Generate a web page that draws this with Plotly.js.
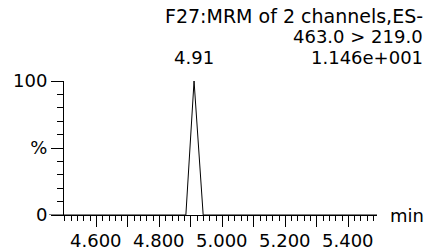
<!DOCTYPE html>
<html><head><meta charset="utf-8">
<script src="https://cdn.plot.ly/plotly-3.0.1.min.js"></script>
<style>html,body{margin:0;padding:0;background:#fff}#c{width:428px;height:250px}</style>
</head><body><div id="c"></div>
<script>
const timeMin = [4.497, 4.884, 4.910, 4.939, 5.491];
const intensityPct = [0, 0, 100, 0, 0];
const xTickVals = [4.6, 4.7, 4.8, 4.9, 5.0, 5.1, 5.2, 5.3, 5.4];
const xTickText = ["4.600", "", "4.800", "", "5.000", "", "5.200", "", "5.400"];
const yTickVals = [0, 50, 100];
const yTickText = ["0", "%", "100"];
const peakTime = 4.91;
const peakLabel = "4.91";
const headerLines = ["F27:MRM of 2 channels,ES-", "463.0 > 219.0", "1.146e+001"];
const headerY = [1.485, 1.33, 1.178];

const fam = "DejaVu Sans, Liberation Sans, Arial, sans-serif";
const font = {family: fam, size: 18, color: "#000"};
const headFont = {family: fam, size: 19, color: "#000"};
const annotations = headerLines.map((t, i) => ({
  x: 1, y: headerY[i], xref: "paper", yref: "paper", xanchor: "right", yanchor: "middle",
  text: t, showarrow: false, font: i === 0 ? headFont : font, xshift: 48
}));
annotations.push({x: peakTime, y: 1.178, xref: "x", yref: "paper", text: peakLabel, showarrow: false, yanchor: "middle", xanchor: "center", font: font});
annotations.push({x: 1, y: 0, xref: "paper", yref: "paper", xanchor: "left", yanchor: "middle", text: "min", showarrow: false, font: font, xshift: 11});
xTickVals.forEach((v, i) => {
  if (xTickText[i]) annotations.push({x: v, y: -0.187, xref: "x", yref: "paper", text: xTickText[i], showarrow: false, xanchor: "center", yanchor: "middle", font: font});
});

const layout = {
  width: 428, height: 250,
  margin: {l: 64, r: 51, t: 80.5, b: 34.5},
  paper_bgcolor: "#fff", plot_bgcolor: "#fff",
  showlegend: false,
  font: font,
  xaxis: {
    range: [4.497, 5.491], showgrid: false, zeroline: false,
    showline: true, linecolor: "#000", linewidth: 1,
    tickmode: "array", tickvals: xTickVals, showticklabels: false,
    ticks: "outside", ticklen: 11, tickwidth: 1, tickcolor: "#000",
    minor: {dtick: 0.02, tick0: 4.5, ticks: "outside", ticklen: 5, tickwidth: 1, tickcolor: "#000", showgrid: false}
  },
  yaxis: {
    range: [0, 100], showgrid: false, zeroline: false,
    showline: true, linecolor: "#000", linewidth: 1,
    tickmode: "array", tickvals: yTickVals, ticktext: yTickText,
    ticks: "outside", ticklen: 12, tickwidth: 1, tickcolor: "#000",
    tickfont: font,
    minor: {dtick: 10, tick0: 0, ticks: "outside", ticklen: 6, tickwidth: 1, tickcolor: "#000", showgrid: false}
  },
  shapes: [
    {type: "line", xref: "paper", yref: "y", x0: -0.048, x1: 0, y0: 0, y1: 0, line: {color: "#000", width: 1}}
  ],
  annotations: annotations
};
Plotly.newPlot("c", [{x: timeMin, y: intensityPct, type: "scatter", mode: "lines", line: {color: "#000", width: 1}, hoverinfo: "skip"}], layout, {staticPlot: true, displayModeBar: false});
</script></body></html>
